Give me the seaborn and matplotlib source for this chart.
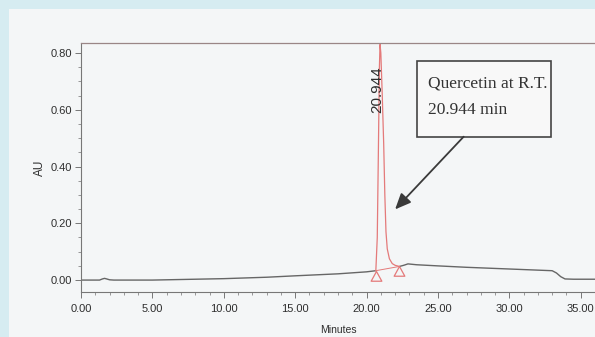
import matplotlib
matplotlib.use("Agg")
import matplotlib.pyplot as plt
import seaborn as sns
import pandas as pd
from matplotlib.patches import Rectangle
from matplotlib.path import Path
from matplotlib.ticker import MultipleLocator, FormatStrFormatter

# ---- data ----
pre_time = [0.0, 1.3, 1.5, 1.65, 1.8, 2.0, 2.3, 5.0, 8.0, 10.0, 13.0, 15.0, 18.0, 20.0, 20.65]
pre_au = [0.000, 0.000, 0.004, 0.006, 0.004, 0.001, 0.000, 0.000, 0.003, 0.005, 0.010, 0.015, 0.022, 0.029, 0.033]

peak_time = [20.65, 20.75, 20.82, 20.9, 20.944, 21.0, 21.1, 21.2, 21.28, 21.36, 21.45, 21.6, 21.8, 22.0, 22.3]
peak_au = [0.033, 0.15, 0.42, 0.75, 0.83, 0.80, 0.65, 0.48, 0.30, 0.17, 0.11, 0.075, 0.058, 0.052, 0.048]

post_time = [22.3, 22.6, 22.9, 23.5, 25.0, 27.0, 30.0, 32.0, 33.0, 33.3, 33.6, 33.9, 34.5, 36.0]
post_au = [0.048, 0.052, 0.057, 0.054, 0.050, 0.045, 0.039, 0.035, 0.033, 0.025, 0.012, 0.004, 0.003, 0.003]

marker_time = [20.65, 22.3]
marker_au = [0.033, 0.048]

peak_label = "20.944"
annot_text = "Quercetin at R.T.\n20.944 min"
x_ticks = [0, 5, 10, 15, 20, 25, 30, 35]
y_ticks = [0.0, 0.2, 0.4, 0.6, 0.8]

# ---- style ----
sns.set_theme(style="ticks")
plt.rcParams["font.family"] = ["Liberation Sans", "DejaVu Sans"]

GREY = "#666666"
RED = "#e47a7a"
TXT = "#2e2e2e"

fig = plt.figure(figsize=(5.95, 3.37), dpi=100, facecolor="#d6ecf1")
fig.patches.append(Rectangle((9 / 595, 0), 1, 1 - 9 / 337, transform=fig.transFigure,
                             facecolor="#f4f6f7", edgecolor="none", zorder=-5))
ax = fig.add_axes([81 / 595, 45 / 337, 1 - 81 / 595, 249 / 337])
ax.set_facecolor("none")
ax.set_zorder(2)

pre = pd.DataFrame({"time": pre_time, "au": pre_au})
peak = pd.DataFrame({"time": peak_time, "au": peak_au})
post = pd.DataFrame({"time": post_time, "au": post_au})

sns.lineplot(data=pre, x="time", y="au", ax=ax, color=GREY, lw=1.0, sort=False, estimator=None)
sns.lineplot(data=post, x="time", y="au", ax=ax, color=GREY, lw=1.0, sort=False, estimator=None)
sns.lineplot(data=peak, x="time", y="au", ax=ax, color=RED, lw=0.9, sort=False, estimator=None)

tri = Path([(0, 0), (-0.55, -1), (0.55, -1), (0, 0)],
           [Path.MOVETO, Path.LINETO, Path.LINETO, Path.CLOSEPOLY])
sns.lineplot(x=marker_time, y=marker_au, ax=ax, color=RED, lw=0.7, marker=tri,
             markersize=14, markerfacecolor="none", markeredgecolor=RED,
             markeredgewidth=0.9, sort=False, estimator=None)

ax.set_xlim(0, 36.0)
ax.set_ylim(-0.042, 0.835)

ax.xaxis.set_major_locator(plt.FixedLocator(x_ticks))
ax.xaxis.set_minor_locator(MultipleLocator(1))
ax.yaxis.set_major_locator(plt.FixedLocator(y_ticks))
ax.yaxis.set_minor_locator(MultipleLocator(0.05))
ax.xaxis.set_major_formatter(FormatStrFormatter("%.2f"))
ax.yaxis.set_major_formatter(FormatStrFormatter("%.2f"))

ax.tick_params(which="major", length=4.5, width=0.7, color="#777777",
               labelsize=8, labelcolor=TXT, pad=2)
ax.tick_params(which="minor", length=2.5, width=0.6, color="#888888")
ax.tick_params(axis="x", which="major", pad=4)

for s in ["left", "bottom"]:
    ax.spines[s].set_color("#777777")
    ax.spines[s].set_linewidth(0.8)
ax.spines["top"].set_color("#9a8686")
ax.spines["top"].set_linewidth(0.9)
ax.spines["right"].set_visible(False)

ax.set_xlabel("Minutes", fontsize=7.5, color=TXT, labelpad=8)
ax.set_ylabel("AU", fontsize=8.5, color=TXT, labelpad=3)

# peak retention-time label
ax.text(20.78, 0.67, peak_label, rotation=90, ha="center", va="center",
        fontsize=11, color=TXT)

# boxed annotation with arrow
ax.add_patch(Rectangle((23.56, 0.505), 32.89 - 23.56, 0.772 - 0.505,
                       facecolor="#f8f8f8", edgecolor="#444444", lw=1.2, zorder=3))
ax.text(24.3, 0.722, annot_text, ha="left", va="top", fontsize=12.5,
        family=["Liberation Serif", "DejaVu Serif"], color="#333333",
        linespacing=1.95, zorder=4)
ax.annotate("", xy=(22.0, 0.249), xytext=(26.8, 0.505),
            arrowprops=dict(arrowstyle="-|>,head_length=0.8,head_width=0.35",
                            color="#3a3a3a", lw=1.3, shrinkA=0, shrinkB=0))

fig.savefig("out.png", dpi=100, facecolor=fig.get_facecolor())
